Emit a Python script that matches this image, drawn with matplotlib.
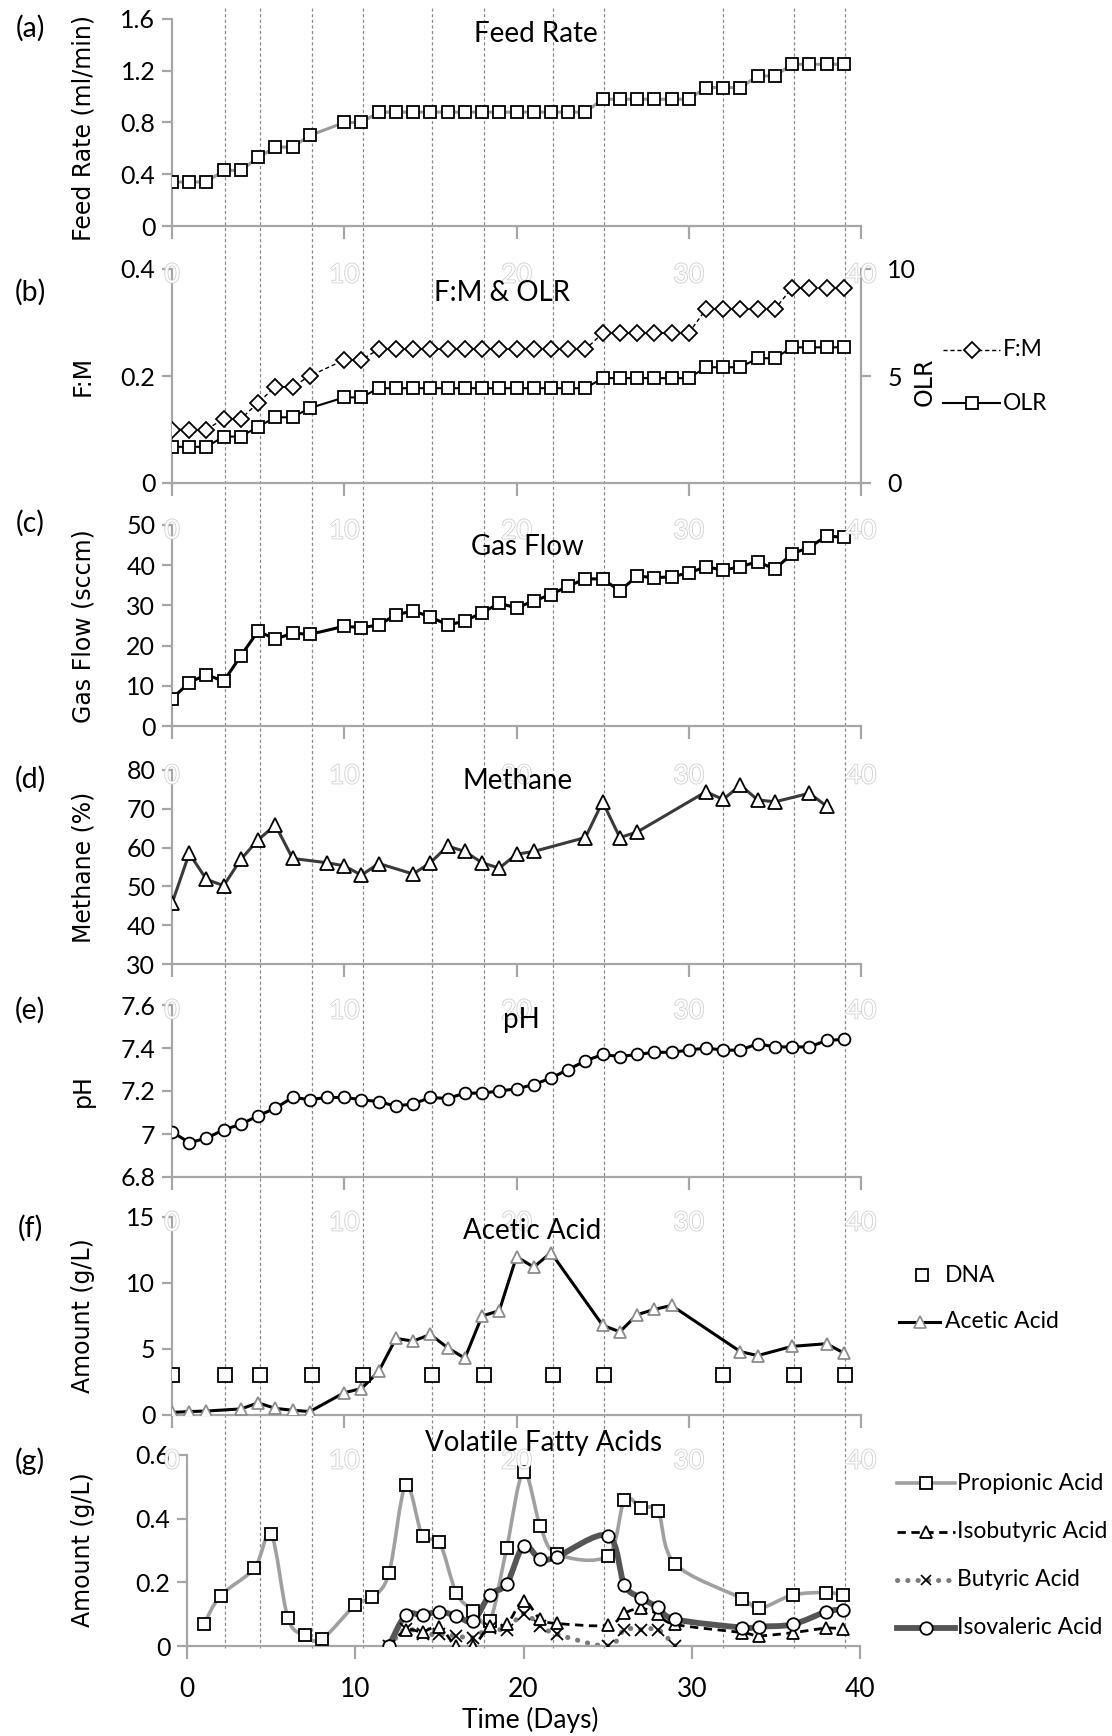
import numpy as np
import matplotlib
matplotlib.use("Agg")
import matplotlib.pyplot as plt
from matplotlib.lines import Line2D
from matplotlib.path import Path
from matplotlib.patches import PathPatch
import matplotlib.patheffects as pe

plt.rcParams['font.family'] = ['Lato', 'DejaVu Sans']

W, H, DPI = 1112, 1736, 100

# ---------------- data ----------------
feed_days = [0, 1, 2, 3, 4, 5, 6, 7, 8, 10, 11, 12, 13, 14, 15, 16, 17, 18, 19, 20,
             21, 22, 23, 24, 25, 26, 27, 28, 29, 30, 31, 32, 33, 34, 35, 36, 37, 38, 39]
feed_rate = [0.34, 0.34, 0.34, 0.43, 0.43, 0.53, 0.61, 0.61, 0.70, 0.80, 0.80,
             0.88, 0.88, 0.88, 0.88, 0.88, 0.88, 0.88, 0.88, 0.88, 0.88, 0.88, 0.88, 0.88,
             0.98, 0.98, 0.98, 0.98, 0.98, 0.98, 1.07, 1.07, 1.07, 1.16, 1.16,
             1.25, 1.25, 1.25, 1.25]
fm_ratio = [0.10, 0.10, 0.10, 0.12, 0.12, 0.15, 0.18, 0.18, 0.20, 0.23, 0.23,
            0.25, 0.25, 0.25, 0.25, 0.25, 0.25, 0.25, 0.25, 0.25, 0.25, 0.25, 0.25, 0.25,
            0.28, 0.28, 0.28, 0.28, 0.28, 0.28, 0.325, 0.325, 0.325, 0.325, 0.325,
            0.365, 0.365, 0.365, 0.365]
olr = [1.69, 1.69, 1.69, 2.17, 2.17, 2.63, 3.07, 3.07, 3.5, 4.0, 4.0,
       4.43, 4.43, 4.43, 4.43, 4.43, 4.43, 4.43, 4.43, 4.43, 4.43, 4.43, 4.43, 4.43,
       4.9, 4.9, 4.9, 4.9, 4.9, 4.9, 5.41, 5.41, 5.41, 5.83, 5.83,
       6.34, 6.34, 6.34, 6.34]
gas_flow = [6.8, 10.8, 12.8, 11.1, 17.5, 23.6, 21.6, 23.1, 22.8, 24.8, 24.5, 25.1,
            27.7, 28.6, 27.2, 25.1, 26.1, 28.2, 30.5, 29.4, 31.1, 32.7, 34.8, 36.6,
            36.6, 33.6, 37.3, 36.9, 37.1, 38.1, 39.6, 38.8, 39.6, 40.9, 39.0, 42.9,
            44.4, 47.3, 46.9]

methane_days = [0, 1, 2, 3, 4, 5, 6, 7, 9, 10, 11, 12, 14, 15, 16, 17, 18, 19, 20, 21,
                24, 25, 26, 27, 31, 32, 33, 34, 35, 37, 38]
methane = [45.6, 58.5, 51.8, 50.2, 57.0, 62.0, 65.8, 57.2, 56.1, 55.3, 52.9, 55.9,
           53.2, 56.1, 60.4, 59.0, 56.1, 54.7, 58.3, 59.0, 62.6, 71.8, 62.6, 64.0,
           74.4, 72.4, 76.1, 72.3, 71.8, 74.0, 70.7]

ph_days = list(range(40))
ph = [7.01, 6.96, 6.98, 7.02, 7.045, 7.085, 7.12, 7.17, 7.16, 7.17, 7.17, 7.16, 7.15,
      7.13, 7.14, 7.17, 7.165, 7.19, 7.19, 7.20, 7.21, 7.23, 7.26, 7.30, 7.34, 7.37,
      7.36, 7.37, 7.38, 7.38, 7.39, 7.40, 7.39, 7.39, 7.42, 7.405, 7.405, 7.405, 7.435, 7.44]

acetic_days = [0, 1, 2, 4, 5, 6, 7, 8, 10, 11, 12, 13, 14, 15, 16, 17, 18, 19, 20, 21,
               22, 25, 26, 27, 28, 29, 33, 34, 36, 38, 39]
acetic = [0.2, 0.26, 0.3, 0.46, 0.92, 0.5, 0.36, 0.26, 1.69, 2.0, 3.3, 5.8, 5.6, 6.1,
          5.1, 4.3, 7.5, 7.9, 12.0, 11.2, 12.3, 6.8, 6.3, 7.6, 8.0, 8.3, 4.8, 4.5, 5.2,
          5.4, 4.7]
dna_days = [0, 3.1, 5.1, 8.1, 11.1, 15.1, 18.1, 22.1, 25.1, 32.0, 36.1, 39.1]
dna_level = [3, 3, 3, 3, 3, 3, 3, 3, 3, 3, 3, 3]

prop_days = [1, 2, 4, 5, 6, 7, 8, 10, 11, 12, 13, 14, 15, 16, 17, 18, 19, 20, 21, 22,
             25, 26, 27, 28, 29, 33, 34, 36, 38, 39]
propionic = [0.068, 0.158, 0.244, 0.351, 0.087, 0.035, 0.021, 0.129, 0.153, 0.228,
             0.505, 0.345, 0.326, 0.168, 0.111, 0.079, 0.308, 0.547, 0.376, 0.289,
             0.284, 0.458, 0.434, 0.423, 0.258, 0.149, 0.118, 0.160, 0.168, 0.160]
iso_days = [12, 13, 14, 15, 16, 17, 18, 19, 20, 21, 22, 25, 26, 27, 28, 29, 33, 34, 36, 38, 39]
isovaleric = [0.0, 0.097, 0.097, 0.108, 0.095, 0.079, 0.161, 0.195, 0.314, 0.272, 0.281,
              0.347, 0.192, 0.151, 0.121, 0.084, 0.058, 0.061, 0.068, 0.108, 0.114]
isobutyric = [0.0, 0.05, 0.045, 0.06, 0.0, 0.0, 0.062, 0.068, 0.142, 0.084, 0.071,
              0.065, 0.103, 0.118, 0.100, 0.068, 0.042, 0.032, 0.042, 0.056, 0.053]
but_days = [12, 13, 14, 15, 16, 17, 18, 19, 20, 21, 22, 25, 26, 27, 28, 29]
butyric = [0.0, 0.053, 0.037, 0.037, 0.032, 0.026, 0.058, 0.051, 0.102, 0.063, 0.037,
           0.0, 0.051, 0.051, 0.051, 0.0]

x_ticks = [0, 10, 20, 30, 40]

# ---------------- styling ----------------
GRAY = '#a6a6a6'
TICK_FS = 18
TITLE_FS = 20
YLAB_FS = 17
LEG_FS = 16.5

fig = plt.figure(figsize=(W / DPI, H / DPI), dpi=DPI)


def add_ax(left, top, right, bottom):
    ax = fig.add_axes([left / W, 1 - bottom / H, (right - left) / W, (bottom - top) / H])
    ax.patch.set_visible(False)
    return ax


def style(ax, ylim, yticks, ylabels):
    ax.set_xlim(0, 40)
    ax.set_ylim(*ylim)
    for s in ['top', 'right']:
        ax.spines[s].set_visible(False)
    for s in ['left', 'bottom']:
        ax.spines[s].set_color(GRAY)
        ax.spines[s].set_linewidth(1.6)
    ax.set_xticks(x_ticks)
    ax.set_xticklabels([])
    ax.tick_params(axis='x', direction='out', length=9, width=1.6, color=GRAY)
    ax.set_yticks(yticks)
    ax.set_yticklabels(ylabels)
    ax.tick_params(axis='y', direction='out', length=7, width=1.6, color=GRAY,
                   labelsize=TICK_FS, pad=5)


def fx(px):
    return px / W


def fy(py):
    return 1 - py / H


AX_L, AX_R = 172, 861
panels = {
    'a': (19, 226), 'b': (269, 483), 'c': (525, 726), 'd': (770, 964),
    'e': (1005, 1177), 'f': (1217, 1415), 'g': (1455, 1646),
}

ax_a = add_ax(AX_L, panels['a'][0], AX_R, panels['a'][1])
ax_b = add_ax(AX_L, panels['b'][0], AX_R, panels['b'][1])
ax_c = add_ax(AX_L, panels['c'][0], AX_R, panels['c'][1])
ax_d = add_ax(AX_L, panels['d'][0], AX_R, panels['d'][1])
ax_e = add_ax(AX_L, panels['e'][0], AX_R, panels['e'][1])
ax_f = add_ax(AX_L, panels['f'][0], AX_R, panels['f'][1])
ax_g = add_ax(187, panels['g'][0], 860, panels['g'][1])

MK = dict(markerfacecolor='white', markeredgecolor='black', markeredgewidth=1.3)

# (a) Feed rate
style(ax_a, (0, 1.6), [0, 0.4, 0.8, 1.2, 1.6], ['0', '0.4', '0.8', '1.2', '1.6'])
ax_a.plot(feed_days, feed_rate, color='#9a9a9a', lw=2.2, marker='s', ms=8.5, **MK, zorder=3)

# (b) F:M & OLR
style(ax_b, (0, 0.4), [0, 0.2, 0.4], ['0', '0.2', '0.4'])
ax_b.plot(feed_days, fm_ratio, color='black', lw=1.0, ls=(0, (3, 2)), marker='D', ms=8, **MK, zorder=3)
ax_b2 = ax_b.twinx()
ax_b2.patch.set_visible(False)
ax_b2.set_ylim(0, 10)
for s in ['top', 'left', 'bottom']:
    ax_b2.spines[s].set_visible(False)
ax_b2.spines['right'].set_color(GRAY)
ax_b2.spines['right'].set_linewidth(1.6)
ax_b2.set_yticks([0, 5, 10])
ax_b2.set_yticklabels(['0', '5', '10'])
ax_b2.tick_params(axis='y', direction='out', length=7, width=1.6, color=GRAY,
                  labelsize=TICK_FS, pad=12)
ax_b2.plot(feed_days, olr, color='black', lw=1.5, marker='s', ms=8.5, **MK, zorder=3)

# (c) Gas flow
style(ax_c, (0, 50), [0, 10, 20, 30, 40, 50], ['0', '10', '20', '30', '40', '50'])
ax_c.plot(feed_days, gas_flow, color='black', lw=2.2, marker='s', ms=8.5, **MK, zorder=3)

# (d) Methane
style(ax_d, (30, 80), [30, 40, 50, 60, 70, 80], ['30', '40', '50', '60', '70', '80'])
ax_d.plot(methane_days, methane, color='#3a3a3a', lw=2.2, marker='^', ms=10, **MK, zorder=3)

# (e) pH
style(ax_e, (6.8, 7.6), [6.8, 7.0, 7.2, 7.4, 7.6], ['6.8', '7', '7.2', '7.4', '7.6'])
ax_e.plot(ph_days, ph, color='black', lw=2.2, marker='o', ms=8.5, **MK, zorder=3)

# (f) Acetic acid
style(ax_f, (0, 15), [0, 5, 10, 15], ['0', '5', '10', '15'])
ax_f.plot(acetic_days, acetic, color='black', lw=2.2, marker='^', ms=9, markerfacecolor='white',
          markeredgecolor='#8c8c8c', markeredgewidth=1.3, zorder=3)
ax_f.plot(dna_days, dna_level, ls='none', marker='s', ms=10, **MK, zorder=4)

# (g) VFAs
style(ax_g, (0, 0.6), [0, 0.2, 0.4, 0.6], ['0', '0.2', '0.4', '0.6'])
ax_g.set_xticklabels(['0', '10', '20', '30', '40'])
ax_g.tick_params(axis='x', labelsize=TICK_FS + 1, pad=13)


def smooth_path(x, y):
    x = np.asarray(x, float)
    y = np.asarray(y, float)
    n = len(x)
    verts = [(x[0], y[0])]
    codes = [Path.MOVETO]
    for i in range(n - 1):
        a = i - 1 if i > 0 else i
        b = i + 2 if i + 2 < n else i + 1
        c1 = (x[i] + (x[i + 1] - x[a]) / 6.0, y[i] + (y[i + 1] - y[a]) / 6.0)
        c2 = (x[i + 1] - (x[b] - x[i]) / 6.0, y[i + 1] - (y[b] - y[i]) / 6.0)
        verts += [c1, c2, (x[i + 1], y[i + 1])]
        codes += [Path.CURVE4] * 3
    return Path(verts, codes)


ax_g.add_patch(PathPatch(smooth_path(prop_days, propionic), fill=False, edgecolor='#a0a0a0',
                         lw=2.6, zorder=2))
ax_g.add_patch(PathPatch(smooth_path(but_days, butyric), fill=False, edgecolor='#7a7a7a',
                         lw=3.6, linestyle=(0, (0.05, 2.0)), capstyle='round', zorder=2))
ax_g.add_patch(PathPatch(smooth_path(iso_days, isobutyric), fill=False, edgecolor='black',
                         lw=2.0, linestyle=(0, (3, 2)), zorder=2))
ax_g.add_patch(PathPatch(smooth_path(iso_days, isovaleric), fill=False, edgecolor='#555555',
                         lw=4.2, zorder=2.5))
ax_g.plot(prop_days, propionic, ls='none', marker='s', ms=8.5, **MK, zorder=4)
ax_g.plot(but_days, butyric, ls='none', marker='x', ms=8, markeredgecolor='black',
          markeredgewidth=1.3, zorder=4)
ax_g.plot(iso_days, isobutyric, ls='none', marker='^', ms=8, **MK, zorder=4)
ax_g.plot(iso_days, isovaleric, ls='none', marker='o', ms=9, **MK, zorder=4.5)
ax_g.set_xlim(0, 40)
ax_g.set_ylim(0, 0.6)

# ---------------- vertical dashed lines (DNA sampling days) ----------------
fig.canvas.draw()
for d in dna_days[1:]:
    xp = ax_f.transData.transform((d, 0))[0]
    fig.add_artist(Line2D([xp / W, xp / W], [fy(8), fy(1648)], transform=fig.transFigure,
                          color='#8a8a8a', lw=0.9, ls=(0, (2.5, 2)), zorder=-1))

# hidden (white, outlined) tick labels at the top of panels b-g
for key in ['b', 'c', 'd', 'e', 'f', 'g']:
    top = panels[key][0]
    for t in x_ticks:
        xp = ax_f.transData.transform((t, 0))[0]
        fig.text(fx(xp), fy(top + 6), str(t), ha='center', va='center', fontsize=TICK_FS + 1,
                 color='white',
                 path_effects=[pe.withStroke(linewidth=1.2, foreground='#cfcfcf')], zorder=1)

# titles
titles = [('Feed Rate', 536, 34), ('F:M & OLR', 502, 293), ('Gas Flow', 527, 547),
          ('Methane', 518, 781), ('pH', 521, 1020), ('Acetic Acid', 532, 1231),
          ('Volatile Fatty Acids', 544, 1443)]
for txt, x, y in titles:
    fig.text(fx(x), fy(y), txt, ha='center', va='center', fontsize=TITLE_FS, zorder=5)

# panel letters
letters = [('(a)', 28), ('(b)', 292), ('(c)', 523), ('(d)', 779), ('(e)', 1010),
           ('(f)', 1228), ('(g)', 1461)]
for txt, y in letters:
    fig.text(fx(30), fy(y), txt, ha='center', va='center', fontsize=20.5)

# y labels
ylabels = [('Feed Rate (ml/min)', 128), ('F:M', 376), ('Gas Flow (sccm)', 626),
           ('Methane (%)', 867), ('pH', 1091), ('Amount (g/L)', 1316), ('Amount (g/L)', 1550)]
for txt, y in ylabels:
    fig.text(fx(83), fy(y), txt, ha='center', va='center', rotation=90,
             fontsize=YLAB_FS, family='DejaVu Sans')
fig.text(fx(925), fy(382), 'OLR', ha='center', va='center', rotation=90,
         fontsize=YLAB_FS, family='DejaVu Sans')

fig.text(fx(530), fy(1720), 'Time (Days)', ha='center', va='center', fontsize=TICK_FS + 1)


# ---------------- legends (manual) ----------------
def leg_entry(x0, x1, y, label, tx, line_kw=None, marker_kw=None):
    if line_kw is not None:
        fig.add_artist(Line2D([fx(x0), fx(x1)], [fy(y), fy(y)], transform=fig.transFigure,
                              **line_kw))
    if marker_kw is not None:
        fig.add_artist(Line2D([fx((x0 + x1) / 2)], [fy(y)], transform=fig.transFigure,
                              ls='none', **marker_kw))
    fig.text(fx(tx), fy(y), label, ha='left', va='center', fontsize=LEG_FS)


leg_entry(943, 1000, 350, 'F:M', 1003, dict(color='black', lw=1.0, ls=(0, (3, 2))),
          dict(marker='D', ms=8, **MK))
leg_entry(943, 1000, 403, 'OLR', 1003, dict(color='black', lw=1.5),
          dict(marker='s', ms=8.5, **MK))

leg_entry(912, 932, 1275, 'DNA', 945, None, dict(marker='s', ms=9, **MK))
leg_entry(899, 940, 1322, 'Acetic Acid', 945, dict(color='black', lw=2.2),
          dict(marker='^', ms=8, markerfacecolor='white', markeredgecolor='#8c8c8c',
               markeredgewidth=1.2))

leg_entry(897, 955, 1483, 'Propionic Acid', 957, dict(color='#a0a0a0', lw=2.6),
          dict(marker='s', ms=8.5, **MK))
leg_entry(897, 955, 1532, 'Isobutyric Acid', 957, dict(color='black', lw=2.0, ls=(0, (3, 2))),
          dict(marker='^', ms=8, **MK))
leg_entry(897, 955, 1580, 'Butyric Acid', 957,
          dict(color='#7a7a7a', lw=3.6, ls=(0, (0.05, 2.0)), solid_capstyle='round',
               dash_capstyle='round'),
          dict(marker='x', ms=7, markeredgecolor='black', markeredgewidth=1.2))
leg_entry(897, 955, 1628, 'Isovaleric Acid', 957, dict(color='#555555', lw=4.2),
          dict(marker='o', ms=9, **MK))

fig.savefig('out.png', dpi=DPI, facecolor='white')
